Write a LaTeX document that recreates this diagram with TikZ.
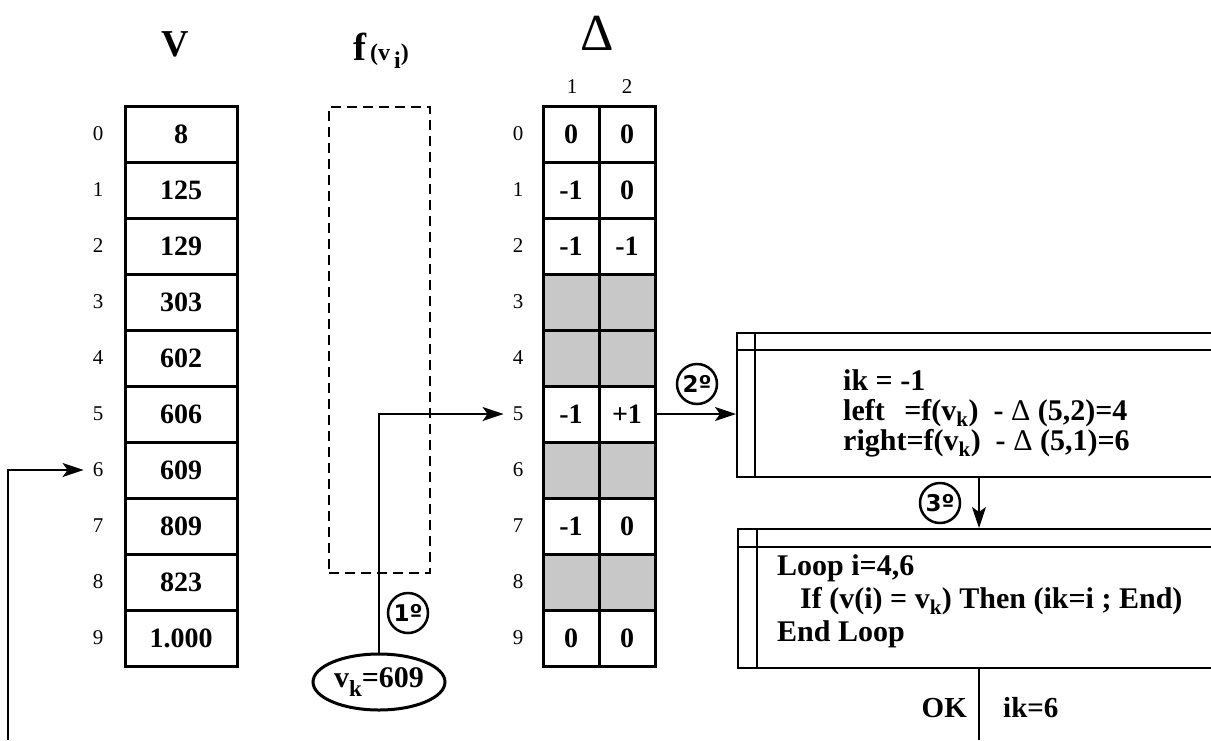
\documentclass[tikz,border=0pt]{standalone}
\usepackage{fontspec}
\setmainfont{Liberation Serif}
\newfontfamily\circfont{DejaVu Sans}
\usetikzlibrary{arrows.meta,shapes.geometric}
\definecolor{cellgray}{HTML}{C8C8C8}
\begin{document}
\begin{tikzpicture}[x=1pt,y=-1pt,
  vcell/.style={draw,line width=3pt,minimum width=112pt,minimum height=56pt,inner sep=0pt,font=\fontsize{28}{28}\selectfont\bfseries},
  dcell/.style={vcell,minimum width=56pt},
  gcell/.style={dcell,fill=cellgray},
  idx/.style={inner sep=0pt,font=\fontsize{21}{21}\selectfont},
  arr/.style={line width=2pt,-{Stealth[length=21pt,width=14pt,inset=5pt]}},
  plain/.style={line width=2pt},
  stepcirc/.style={circle,draw,line width=2.5pt,minimum size=40pt,inner sep=0pt,font=\circfont\fontsize{23}{23}\selectfont\bfseries},
  codebox/.style={draw,line width=2pt,anchor=north west,inner sep=0pt,minimum width=480pt},
  code/.style={inner sep=0pt,align=left,anchor=west}
]
\useasboundingbox[fill=white] (0,0) rectangle (1211,740);

% titles
\node (tV) at (175,44) {\fontsize{38}{38}\selectfont\bfseries V};
\node (tF) at (381,51) {\bfseries\fontsize{39}{39}\selectfont f\fontsize{24}{24}\selectfont\,(v\,\raisebox{-8pt}{i})};
\node (tD) at (597,33) {\fontsize{52}{52}\selectfont Δ};
\node[idx] (c1) at (572,87) {1};
\node[idx] (c2) at (627,87) {2};

% V column
\foreach \val [count=\i from 0] in {8,125,129,303,602,606,609,809,823,1.000} {
  \node[vcell] (v\i) at (181,{134+56*\i}) {\val};
  \node[idx] (vi\i) at (98,{134+56*\i}) {\i};
  \node[idx] (di\i) at (518,{134+56*\i}) {\i};
}

% dashed f(v_i) box
\node[draw,dashed,dash pattern=on 10pt off 6pt,line width=2pt,minimum width=101pt,minimum height=466pt,inner sep=0pt,anchor=north west] (fbox) at (328,106) {};

% Delta table
\node[dcell] (d0a) at (571,134) {0};   \node[dcell] (d0b) at (627,134) {0};
\node[dcell] (d1a) at (571,190) {-1};  \node[dcell] (d1b) at (627,190) {0};
\node[dcell] (d2a) at (571,246) {-1};  \node[dcell] (d2b) at (627,246) {-1};
\node[gcell] (d3a) at (571,302) {};    \node[gcell] (d3b) at (627,302) {};
\node[gcell] (d4a) at (571,358) {};    \node[gcell] (d4b) at (627,358) {};
\node[dcell] (d5a) at (571,414) {-1};  \node[dcell] (d5b) at (627,414) {+1};
\node[gcell] (d6a) at (571,470) {};    \node[gcell] (d6b) at (627,470) {};
\node[dcell] (d7a) at (571,526) {-1};  \node[dcell] (d7b) at (627,526) {0};
\node[gcell] (d8a) at (571,582) {};    \node[gcell] (d8b) at (627,582) {};
\node[dcell] (d9a) at (571,638) {0};   \node[dcell] (d9b) at (627,638) {0};

% v_k ellipse
\node[ellipse,draw,line width=3pt,minimum width=132pt,minimum height=56pt,inner sep=0pt] (vk) at (379,682)
  {\fontsize{30}{30}\selectfont\bfseries v\raisebox{-9pt}{\fontsize{23}{23}\selectfont k}=609};
\node[stepcirc] (s1) at (408,613) {1º};

% code boxes
\node[codebox,minimum height=144pt] (box1) at (736,332) {};
\draw[plain] ([yshift=-18pt]box1.north west) -- ([yshift=-18pt]box1.north east);
\draw[plain] ([xshift=19pt]box1.north west) -- ([xshift=19pt]box1.south west);
\node[code,font=\fontsize{30}{30}\selectfont\bfseries] (t1) at (843,413)
  {ik = -1\\
   left\hspace{0.65em}=f(v\textsubscript{k})\ \ - {\mdseries Δ} (5,2)=4\\
   right=f(v\textsubscript{k})\ \ - {\mdseries Δ} (5,1)=6};
\node[stepcirc] (s2) at (697,384) {2º};

\node[codebox,minimum height=139pt] (box2) at (737,528) {};
\draw[plain] ([yshift=-19pt]box2.north west) -- ([yshift=-19pt]box2.north east);
\draw[plain] ([xshift=20pt]box2.north west) -- ([xshift=20pt]box2.south west);
\node[code,font=\fontsize{30}{33}\selectfont\bfseries] (t2) at (777,601)
  {Loop i=4,6\\
   \hspace*{23pt}If (v(i) = v\textsubscript{k}) Then (ik=i ; End)\\
   End Loop};
\node[stepcirc] (s3) at (940,503) {3º};

\coordinate (okend) at (979,740);
\coordinate (lstart) at (8,740);
\node[inner sep=0pt,anchor=east,font=\fontsize{29}{29}\selectfont\bfseries] (ok) at (967,708) {OK};
\node[inner sep=0pt,anchor=west,font=\fontsize{29}{29}\selectfont\bfseries] (ik) at (1003,708) {ik=6};

% connectors
\draw[arr] (vk.north) |- ([xshift=-9pt]di5.west);
\draw[arr] (d5b.east) -- (d5b.east -| box1.west);
\draw[arr] (box1.south -| okend) -- (box2.north -| okend);
\draw[plain] (box2.south -| okend) -- (okend);
\draw[arr] (lstart) |- ([xshift=-9pt]vi6.west);
\end{tikzpicture}
\end{document}
